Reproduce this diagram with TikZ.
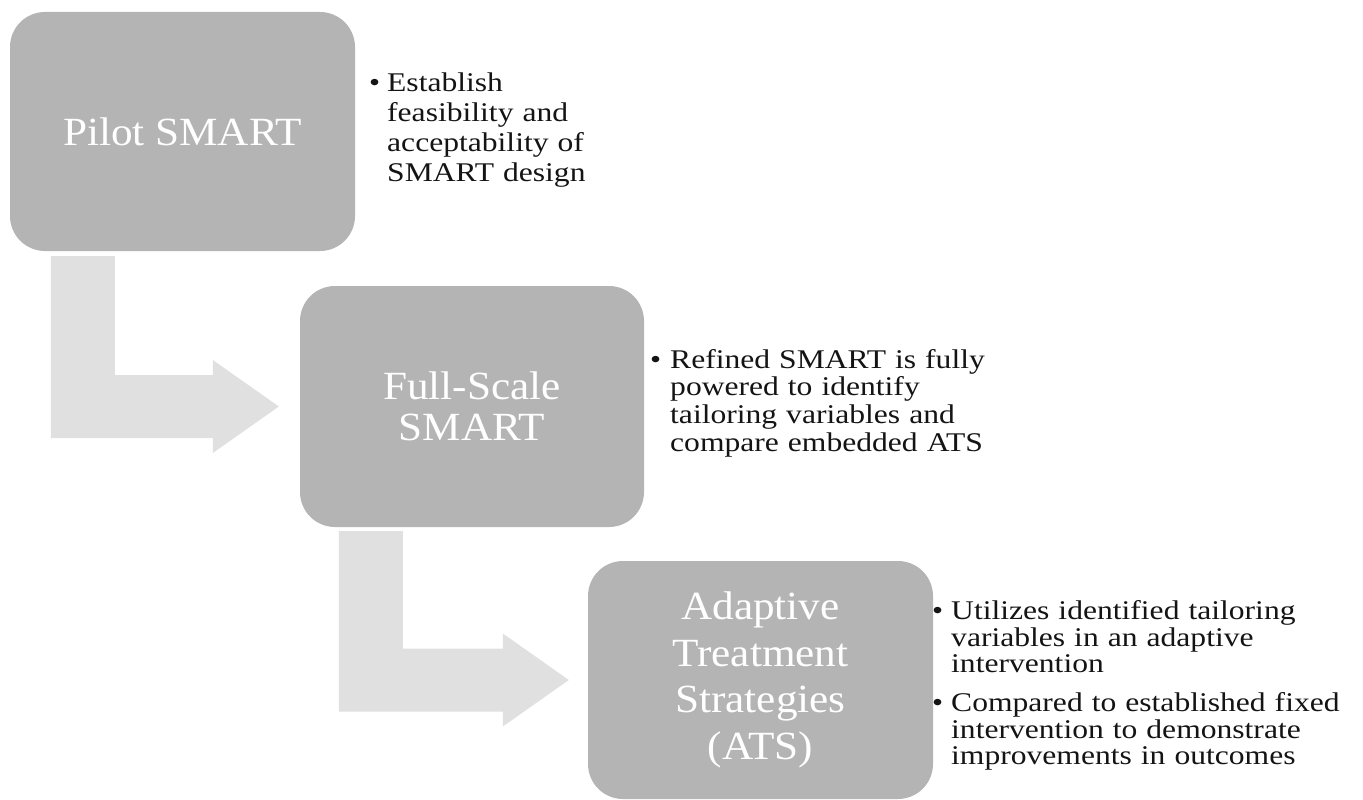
\documentclass[tikz,border=0pt]{standalone}
\usepackage{fontspec}
\setmainfont{Liberation Serif}
\newfontfamily\titlefont[FakeStretch=1.08]{Liberation Serif}
\newfontfamily\bodyfont[FakeStretch=1.17]{Liberation Serif}
\usetikzlibrary{calc}
\definecolor{boxgray}{RGB}{180,180,180}
\definecolor{arrowgray}{RGB}{224,224,224}
\definecolor{textdark}{RGB}{20,20,20}
\newcommand{\bitem}[1]{\noindent\hangindent=#1\hangafter=1\makebox[#1][l]{•}}
\begin{document}
\begin{tikzpicture}[x=1pt,y=-1pt]
\tikzset{
  stage/.style={rounded corners=35pt, fill=boxgray, text=white, align=center, inner sep=0pt},
  bentarrow/.style={fill=arrowgray},
  bullets/.style={anchor=north west, inner sep=0pt, text width=#1, text=textdark}
}
\useasboundingbox (0,0) rectangle (1363,800);
\fill[white] (0,0) rectangle (1363,800);

% stages
\node[stage, minimum width=345pt, minimum height=239pt,
      font=\titlefont\fontsize{40}{44}\selectfont] (b1) at (182.5,131.5) {Pilot SMART};
\node[stage, minimum width=344pt, minimum height=241pt,
      font=\titlefont\fontsize{40}{41}\selectfont] (b2) at (472,406.5) {Full-Scale\\SMART};
\node[stage, minimum width=345pt, minimum height=238pt,
      font=\titlefont\fontsize{40}{46.5}\selectfont] (b3) at (760.5,680) {Adaptive\\Treatment\\Strategies\\(ATS)};

% bent arrows
\coordinate (a1top) at ($(b1.south west)+(41,5)$);
\coordinate (a1tip) at ($(b2.west)+(-21,0)$);
\fill[bentarrow] (a1top) -- ++(64,0) |- ($(a1tip)+(-66,-31.5)$) -- ++(0,-15)
   -- (a1tip) -- ++(-66,46.5) -- ++(0,-15) -| (a1top) -- cycle;

\coordinate (a2top) at ($(b2.south west)+(39,4)$);
\coordinate (a2tip) at ($(b3.west)+(-19,0)$);
\fill[bentarrow] (a2top) -- ++(64,0) |- ($(a2tip)+(-66,-31.5)$) -- ++(0,-15)
   -- (a2tip) -- ++(-66,46.5) -- ++(0,-15) -| (a2top) -- cycle;

% bullet texts
\node[bullets=300pt, font=\bodyfont\fontsize{27}{30}\selectfont] (t1) at (369,72.5)
  {\raggedright\bitem{18pt}Establish\newline feasibility and\newline acceptability of\newline SMART design\par};
\node[bullets=400pt, font=\bodyfont\fontsize{27}{27.7}\selectfont] (t2) at (650,349)
  {\raggedright\bitem{20pt}Refined SMART is fully\newline powered to identify\newline tailoring variables and\newline compare embedded ATS\par};
\node[bullets=430pt, font=\bodyfont\fontsize{27}{26.5}\selectfont] (t3) at (932,600.5)
  {\raggedright
   \bitem{19pt}Utilizes identified tailoring\newline variables in an adaptive\newline intervention\par
   \vskip 12.5pt
   \bitem{19pt}Compared to established fixed\newline intervention to demonstrate\newline improvements in outcomes\par};
\end{tikzpicture}
\end{document}
